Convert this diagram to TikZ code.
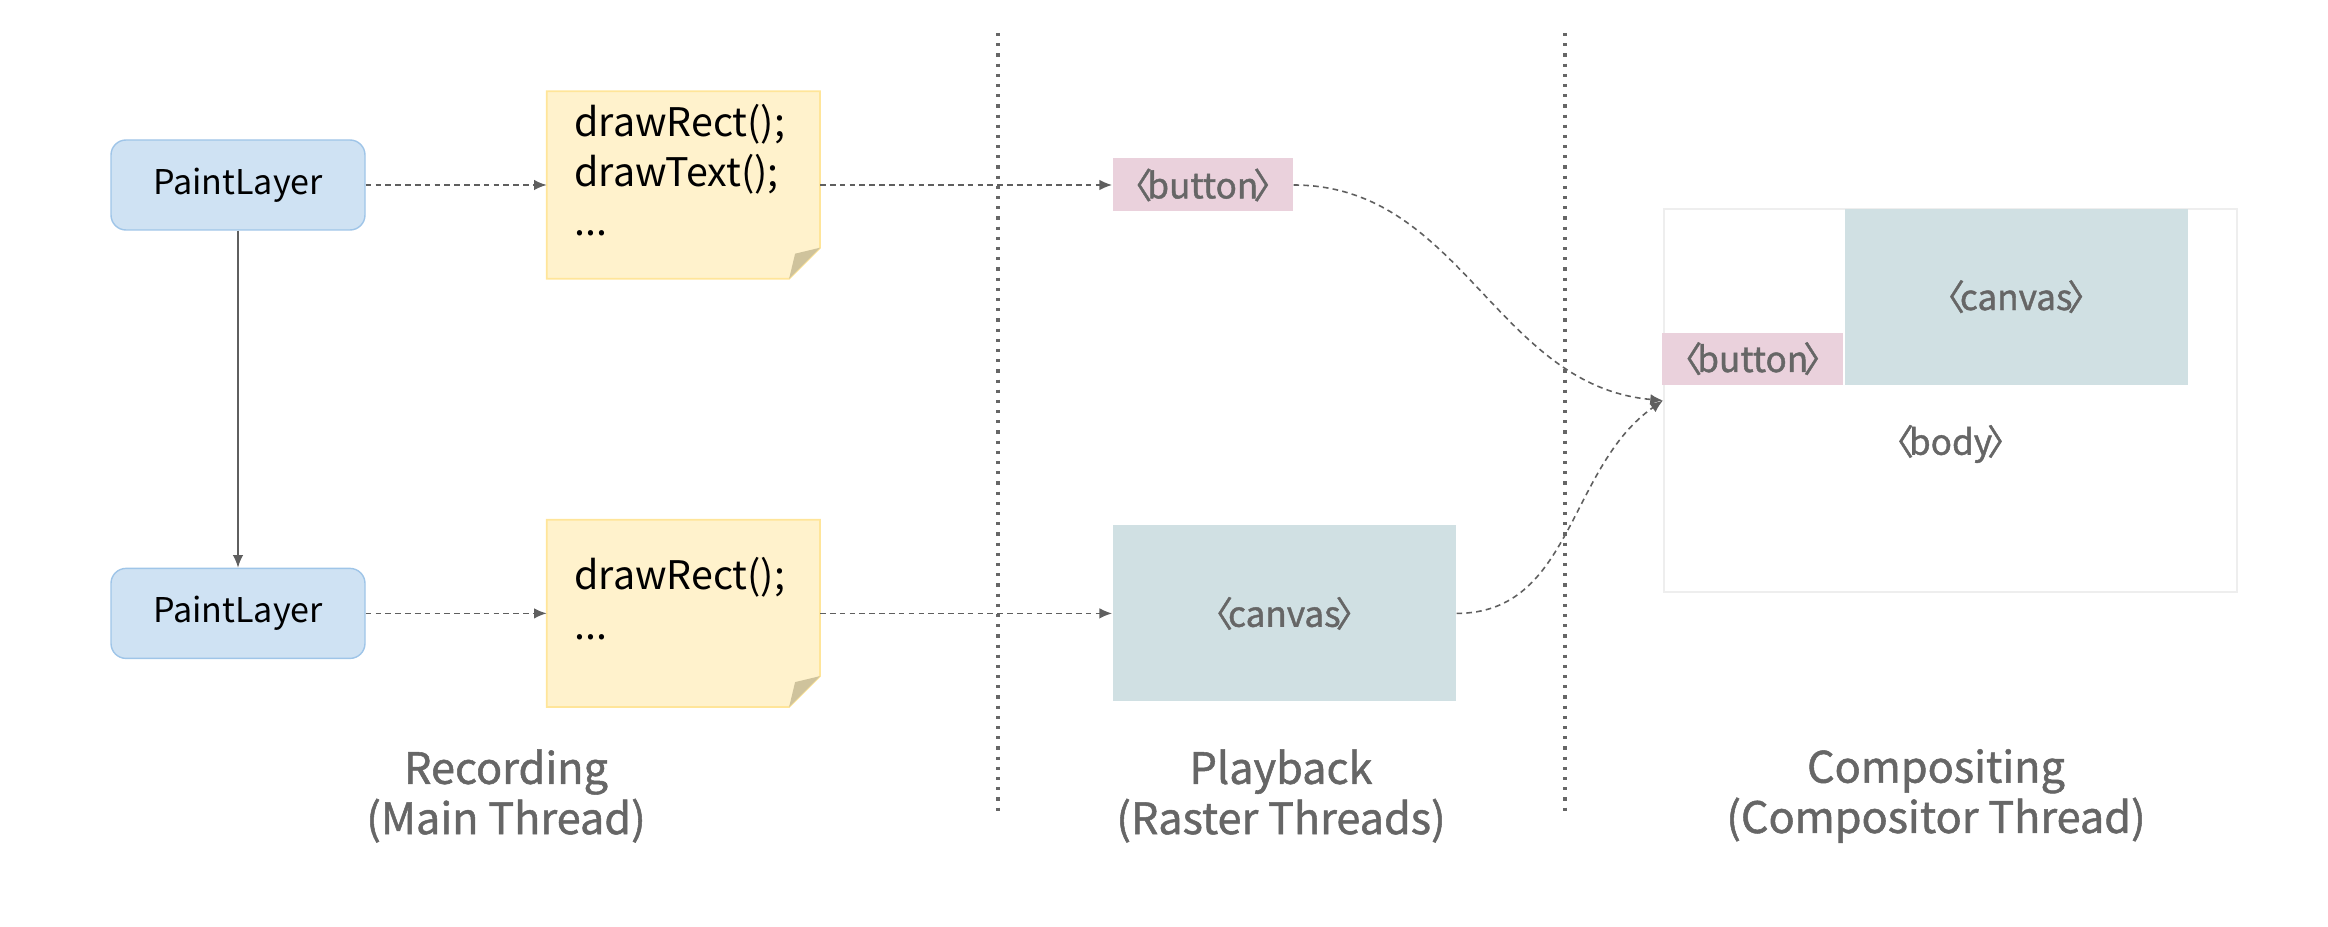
\documentclass[tikz,border=0pt]{standalone}
\usepackage{fontspec}
\setmainfont{Noto Sans CJK KR}
\newfontfamily\heavyfont[FakeBold=1.2]{Noto Sans CJK KR}
\usetikzlibrary{positioning,arrows.meta,backgrounds}

\definecolor{layerfill}{HTML}{CFE2F3}
\definecolor{layerline}{HTML}{9FC5E8}
\definecolor{memofill}{HTML}{FFF2CC}
\definecolor{memoline}{HTML}{FFE599}
\definecolor{memofold}{HTML}{CFC39C}
\definecolor{btnfill}{HTML}{EAD1DC}
\definecolor{cvsfill}{HTML}{D0E0E3}
\definecolor{bodyline}{HTML}{EEEEEE}
\definecolor{inkgray}{HTML}{666666}
\definecolor{wiregray}{HTML}{5F5F5F}

% html tag with tight angle brackets
\newcommand{\htmltag}[1]{〈\kern-0.14em#1\kern-0.14em〉}

% sticky note paper behind a memo node
\newcommand{\memopaper}[1]{%
  \begin{scope}[on background layer]
    \filldraw[fill=memofill, draw=memoline, line width=0.5pt]
      (#1.north west) -- (#1.north east) -- ([yshift=0.31cm]#1.south east)
      -- ([xshift=-0.31cm]#1.south east) -- (#1.south west) -- cycle;
    \fill[memofold] ([yshift=0.31cm]#1.south east) -- ([shift={(-0.25,0.25)}]#1.south east)
      -- ([xshift=-0.31cm]#1.south east) -- cycle;
  \end{scope}}

\begin{document}
\begin{tikzpicture}[node distance=1cm,
    layer/.style={fill=layerfill, draw=layerline, line width=0.4pt, rounded corners=0.15cm,
      minimum width=2.54cm, minimum height=0.9cm, font=\fontsize{9.7}{12}\selectfont},
    memo/.style={minimum width=2.72cm, minimum height=1.86cm, text width=2.18cm, align=left,
      inner sep=0pt, text depth=#1, font=\fontsize{11.2}{14.2}\selectfont},
    tag/.style={text=inkgray, inner sep=0pt, font=\heavyfont\fontsize{10}{12}\selectfont},
    btn/.style={tag, fill=btnfill, minimum width=1.8cm, minimum height=0.53cm},
    cvs/.style={tag, fill=cvsfill, minimum width=3.43cm, minimum height=1.76cm},
    stage/.style={text=inkgray, align=center, font=\heavyfont\fontsize{12.3}{14.3}\selectfont},
    flow/.style={draw=wiregray, line width=0.45pt, dash pattern=on 1.6pt off 1.2pt,
      -{Latex[length=3.6pt,width=3pt]}},
    divider/.style={draw=inkgray, line width=0.9pt, dotted}]

  \useasboundingbox (0,0) rectangle (23.28,9.26);

  % recording
  \node[layer] (pl1) at (2.38,7.41) {PaintLayer};
  \node[layer, below=3.37cm of pl1] (pl2) {PaintLayer};
  \node[memo=1.3cm, right=1.81cm of pl1] (rec1) {drawRect();\\drawText();\\...};
  \node[memo=0.8cm, right=1.81cm of pl2] (rec2) {drawRect();\\...};
  \memopaper{rec1}
  \memopaper{rec2}

  % playback
  \node[btn, right=2.92cm of rec1] (tb) {\htmltag{button}};
  \node[cvs, right=2.92cm of rec2] (tc) {\htmltag{canvas}};

  % compositing
  \node[draw=bodyline, line width=0.6pt, minimum width=5.73cm, minimum height=3.83cm,
    inner sep=0pt] (body) at (19.505,5.255) {};
  \node[cvs, anchor=north west] (cc) at ([xshift=1.81cm]body.north west) {\htmltag{canvas}};
  \node[btn, anchor=south east, minimum width=1.81cm, minimum height=0.52cm] (cb)
    at (cc.south west) {\htmltag{button}};
  \node[tag] (bt) at ([yshift=-0.435cm]body.center) {\htmltag{body}};

  \draw[draw=wiregray, line width=0.45pt, -{Latex[length=3.6pt,width=3pt]}] (pl1) -- (pl2);
  \draw[flow] (pl1) -- (rec1);
  \draw[flow] (pl2) -- (rec2);
  \draw[flow] (rec1) -- (tb);
  \draw[flow] (rec2) -- (tc);
  \draw[flow] (tb.east) to[out=0, in=175] (body.west);
  \draw[flow] (tc.east) to[out=0, in=215] (body.west);

  \draw[divider] (9.98,8.93) -- (9.98,1.12);
  \draw[divider] (15.65,8.93) -- (15.65,1.12);

  \node[stage] (recl) at (5.06,1.30) {Recording\\(Main Thread)};
  \node[stage] (playl) at (12.81,1.30) {Playback\\(Raster Threads)};
  \node[stage] (compl) at (19.36,1.30) {Compositing\\(Compositor Thread)};
\end{tikzpicture}
\end{document}
